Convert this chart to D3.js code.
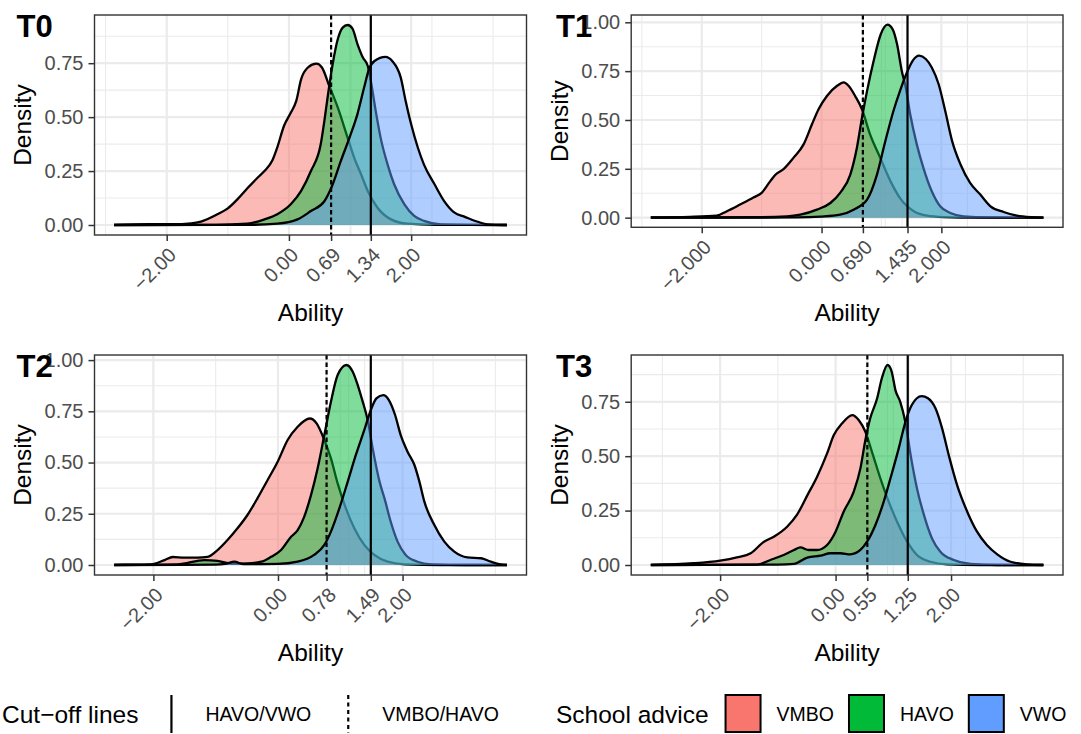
<!DOCTYPE html>
<html>
<head>
<meta charset="utf-8">
<script src="https://cdn.jsdelivr.net/npm/d3@7"></script>
<style>
  body { margin: 0; background: #fff; }
  text { font-family: "Liberation Sans", Arial, Helvetica, sans-serif; }
</style>
</head>
<body>
<script>
// density curves, [ability, density]
var T0_VMBO = [[-2.86,0.001],[-2.3,0.004],[-1.9,0.004],[-1.6,0.008],[-1.44,0.016],[-1.17,0.05],[-1.0,0.077],[-0.84,0.12],[-0.68,0.17],[-0.51,0.22],[-0.40,0.25],[-0.27,0.30],[-0.19,0.36],[-0.08,0.46],[0.03,0.52],[0.12,0.575],[0.20,0.676],[0.31,0.73],[0.45,0.748],[0.54,0.73],[0.66,0.645],[0.80,0.544],[0.96,0.405],[1.07,0.31],[1.18,0.235],[1.29,0.158],[1.45,0.08],[1.67,0.026],[1.94,0.006],[2.4,0.001],[3.566,0]];
var T0_HAVO = [[-2.86,0],[-1.2,0.001],[-0.68,0.006],[-0.40,0.026],[-0.19,0.05],[0.03,0.096],[0.20,0.158],[0.36,0.25],[0.52,0.374],[0.58,0.483],[0.64,0.606],[0.715,0.745],[0.80,0.862],[0.88,0.915],[0.96,0.927],[1.04,0.91],[1.12,0.84],[1.21,0.776],[1.29,0.737],[1.34,0.668],[1.42,0.529],[1.50,0.405],[1.615,0.28],[1.72,0.19],[1.89,0.096],[2.05,0.042],[2.21,0.019],[2.49,0.003],[3.566,0]];
var T0_VWO = [[-2.86,0],[-0.6,0.001],[-0.19,0.006],[0.14,0.026],[0.36,0.065],[0.58,0.11],[0.69,0.17],[0.85,0.297],[1.01,0.42],[1.12,0.513],[1.23,0.637],[1.31,0.722],[1.40,0.76],[1.58,0.779],[1.69,0.76],[1.83,0.683],[1.91,0.575],[2.0,0.467],[2.11,0.358],[2.21,0.28],[2.38,0.19],[2.54,0.111],[2.71,0.057],[2.87,0.039],[3.09,0.015],[3.25,0.003],[3.566,0]];

var T1_VMBO = [[-2.85,0.001],[-2.2,0.004],[-1.75,0.01],[-1.58,0.033],[-1.36,0.067],[-1.13,0.104],[-1.0,0.127],[-0.855,0.187],[-0.77,0.22],[-0.63,0.25],[-0.47,0.306],[-0.30,0.375],[-0.16,0.478],[-0.05,0.555],[0.09,0.623],[0.26,0.675],[0.37,0.692],[0.45,0.675],[0.56,0.623],[0.675,0.555],[0.81,0.426],[0.98,0.306],[1.15,0.187],[1.31,0.10],[1.54,0.033],[1.76,0.01],[2.04,0.003],[2.6,0],[3.703,0]];
var T1_HAVO = [[-2.85,0],[-1.0,0.002],[-0.58,0.006],[-0.355,0.015],[-0.077,0.041],[0.147,0.075],[0.31,0.127],[0.48,0.22],[0.59,0.358],[0.675,0.512],[0.76,0.649],[0.87,0.803],[0.99,0.94],[1.10,0.988],[1.185,0.965],[1.26,0.889],[1.34,0.75],[1.40,0.675],[1.48,0.529],[1.59,0.375],[1.70,0.255],[1.84,0.135],[1.98,0.058],[2.15,0.024],[2.37,0.007],[2.8,0.001],[3.703,0]];
var T1_VWO = [[-2.85,0],[-0.4,0.001],[-0.02,0.005],[0.31,0.015],[0.535,0.041],[0.76,0.092],[0.925,0.22],[1.065,0.392],[1.20,0.546],[1.31,0.649],[1.425,0.743],[1.52,0.803],[1.63,0.829],[1.74,0.812],[1.84,0.769],[1.955,0.683],[2.065,0.546],[2.18,0.392],[2.32,0.272],[2.48,0.178],[2.65,0.118],[2.82,0.058],[3.04,0.029],[3.26,0.01],[3.5,0.002],[3.703,0]];

var T2_VMBO = [[-2.63,0.001],[-2.2,0.002],[-2.04,0.003],[-1.82,0.024],[-1.69,0.039],[-1.50,0.036],[-1.29,0.036],[-1.13,0.04],[-0.97,0.073],[-0.81,0.122],[-0.65,0.179],[-0.49,0.244],[-0.33,0.325],[-0.166,0.415],[-0.005,0.504],[0.155,0.61],[0.316,0.675],[0.51,0.715],[0.62,0.691],[0.744,0.61],[0.85,0.52],[0.958,0.398],[1.09,0.276],[1.225,0.179],[1.385,0.098],[1.546,0.049],[1.76,0.016],[2.03,0.003],[2.6,0],[3.674,0]];
var T2_HAVO = [[-2.63,0],[-1.61,0.003],[-1.18,0.024],[-0.97,0.02],[-0.75,0.007],[-0.49,0.008],[-0.27,0.016],[-0.11,0.04],[0.05,0.073],[0.21,0.138],[0.316,0.17],[0.42,0.235],[0.53,0.341],[0.637,0.472],[0.744,0.634],[0.85,0.797],[0.958,0.927],[1.10,0.976],[1.20,0.943],[1.28,0.878],[1.36,0.797],[1.44,0.707],[1.52,0.569],[1.63,0.407],[1.71,0.325],[1.81,0.211],[1.92,0.114],[2.05,0.049],[2.24,0.016],[2.46,0.003],[3.0,0],[3.674,0]];
var T2_VWO = [[-2.63,0],[-1.0,0.002],[-0.85,0.005],[-0.70,0.016],[-0.55,0.004],[0.0,0.005],[0.316,0.016],[0.58,0.049],[0.744,0.098],[0.85,0.163],[0.985,0.276],[1.12,0.407],[1.25,0.537],[1.386,0.659],[1.49,0.756],[1.58,0.813],[1.69,0.829],[1.78,0.805],[1.88,0.732],[1.97,0.634],[2.08,0.553],[2.19,0.488],[2.27,0.407],[2.35,0.309],[2.51,0.195],[2.67,0.114],[2.83,0.065],[3.04,0.037],[3.26,0.033],[3.42,0.016],[3.6,0.002],[3.674,0]];

var T3_VMBO = [[-3.2,0.001],[-2.46,0.008],[-2.0,0.02],[-1.71,0.035],[-1.47,0.054],[-1.24,0.107],[-1.07,0.13],[-0.84,0.176],[-0.67,0.23],[-0.49,0.32],[-0.32,0.406],[-0.147,0.513],[-0.03,0.597],[0.11,0.65],[0.29,0.689],[0.40,0.666],[0.516,0.612],[0.63,0.52],[0.776,0.398],[0.92,0.291],[1.065,0.199],[1.24,0.107],[1.41,0.046],[1.64,0.015],[1.93,0.003],[2.5,0],[3.599,0]];
var T3_HAVO = [[-3.2,0],[-1.36,0.002],[-1.13,0.023],[-0.90,0.046],[-0.72,0.069],[-0.61,0.081],[-0.465,0.069],[-0.32,0.069],[-0.147,0.092],[0.0,0.153],[0.14,0.245],[0.315,0.337],[0.43,0.444],[0.516,0.574],[0.60,0.674],[0.72,0.766],[0.80,0.857],[0.90,0.919],[0.97,0.89],[1.04,0.80],[1.12,0.75],[1.21,0.655],[1.30,0.505],[1.41,0.352],[1.53,0.23],[1.67,0.122],[1.815,0.061],[2.05,0.023],[2.34,0.005],[2.8,0],[3.599,0]];
var T3_VWO = [[-3.2,0],[-1.0,0.002],[-0.72,0.005],[-0.49,0.034],[-0.26,0.043],[-0.09,0.054],[0.084,0.054],[0.257,0.049],[0.43,0.069],[0.545,0.107],[0.69,0.184],[0.834,0.291],[0.95,0.398],[1.094,0.536],[1.21,0.658],[1.32,0.735],[1.49,0.776],[1.60,0.766],[1.73,0.72],[1.845,0.628],[1.96,0.505],[2.105,0.367],[2.28,0.245],[2.45,0.153],[2.62,0.092],[2.80,0.049],[3.03,0.015],[3.32,0.003],[3.599,0]];

// cut-off values [VMBO/HAVO, HAVO/VWO]
var T0_CUTS = [0.69, 1.34];
var T1_CUTS = [0.690, 1.435];
var T2_CUTS = [0.78, 1.49];
var T3_CUTS = [0.55, 1.25];

var BASE_BREAKS = [-2, 0, 2];
var Y_BREAKS = [0, 0.25, 0.5, 0.75, 1.0];
var ADVICE = ["VMBO", "HAVO", "VWO"];
var ADVICE_COLORS = ["#F8766D", "#00BA38", "#619CFF"];
var CUT_LABELS = ["HAVO/VWO", "VMBO/HAVO"];

// layout of each panel (pixel box of the plotting area)
var panels = [
  {label: "T0", groups: [T0_VMBO, T0_HAVO, T0_VWO], cuts: T0_CUTS, digits: 2,
   left: 94.5, right: 526.5, top: 15, bottom: 235, col: 0, row: 0},
  {label: "T1", groups: [T1_VMBO, T1_HAVO, T1_VWO], cuts: T1_CUTS, digits: 3,
   left: 631.2, right: 1063, top: 15, bottom: 227.3, col: 1, row: 0},
  {label: "T2", groups: [T2_VMBO, T2_HAVO, T2_VWO], cuts: T2_CUTS, digits: 2,
   left: 94.5, right: 526.5, top: 355, bottom: 575, col: 0, row: 1},
  {label: "T3", groups: [T3_VMBO, T3_HAVO, T3_VWO], cuts: T3_CUTS, digits: 2,
   left: 631.2, right: 1063, top: 355, bottom: 575, col: 1, row: 1}
];

var GRID = "#EBEBEB";
var DARK = "#333333";
var TICK_TXT = "#4D4D4D";

var svg = d3.select("body").append("svg")
  .attr("width", 1081).attr("height", 734);

// ggplot-like minor breaks (breaks kept in the given order)
function minor_breaks(b, lim)
{
  var bd = b[1] - b[0];
  var bb = b.slice();
  if (lim[0] < d3.min(b)) bb.unshift(bb[0] - bd);
  if (lim[1] > d3.max(b)) bb.push(bb[bb.length - 1] + bd);
  var out = [];
  for (var i = 0; i < bb.length - 1; i++)
    out.push(bb[i], (bb[i] + bb[i + 1]) / 2);
  out.push(bb[bb.length - 1]);
  return out.filter(function(v){ return v >= lim[0] && v <= lim[1]; });
}

function expand(ext)
{
  var d = ext[1] - ext[0];
  return [ext[0] - 0.05 * d, ext[1] + 0.05 * d];
}

function draw_panel(p)
{
  var all = d3.merge(p.groups);
  var xdom = expand(d3.extent(all, function(d){ return d[0]; }));
  var ydom = expand([0, d3.max(all, function(d){ return d[1]; })]);
  var x = d3.scaleLinear().domain(xdom).range([p.left, p.right]);
  var y = d3.scaleLinear().domain(ydom).range([p.bottom, p.top]);

  var xbreaks = BASE_BREAKS.concat(p.cuts);
  var ybreaks = Y_BREAKS.filter(function(v){ return v >= ydom[0] && v <= ydom[1]; });

  var g = svg.append("g");
  g.append("rect")
    .attr("x", p.left).attr("y", p.top)
    .attr("width", p.right - p.left).attr("height", p.bottom - p.top)
    .attr("fill", "#fff");

  // grid
  var grid = g.append("g");
  grid.selectAll(".xmin").data(minor_breaks(xbreaks, xdom)).enter().append("line")
    .attr("x1", x).attr("x2", x).attr("y1", p.top).attr("y2", p.bottom)
    .attr("stroke", GRID).attr("stroke-width", 1.1);
  grid.selectAll(".ymin").data(minor_breaks(ybreaks, ydom)).enter().append("line")
    .attr("y1", y).attr("y2", y).attr("x1", p.left).attr("x2", p.right)
    .attr("stroke", GRID).attr("stroke-width", 1.1);
  grid.selectAll(".xmaj").data(xbreaks).enter().append("line")
    .attr("x1", x).attr("x2", x).attr("y1", p.top).attr("y2", p.bottom)
    .attr("stroke", GRID).attr("stroke-width", 2.2);
  grid.selectAll(".ymaj").data(ybreaks).enter().append("line")
    .attr("y1", y).attr("y2", y).attr("x1", p.left).attr("x2", p.right)
    .attr("stroke", GRID).attr("stroke-width", 2.2);

  // densities, each group fill then upper outline
  var area = d3.area()
    .x(function(d){ return x(d[0]); })
    .y0(y(0))
    .y1(function(d){ return y(d[1]); })
    .curve(d3.curveMonotoneX);
  var line = d3.line()
    .x(function(d){ return x(d[0]); })
    .y(function(d){ return y(d[1]); })
    .curve(d3.curveMonotoneX);
  p.groups.forEach(function(gr, i){
    g.append("path").attr("d", area(gr))
      .attr("fill", ADVICE_COLORS[i]).attr("fill-opacity", 0.5);
    g.append("path").attr("d", line(gr))
      .attr("fill", "none").attr("stroke", "#000").attr("stroke-width", 2.3)
      .attr("stroke-linejoin", "round");
  });

  // cut-off lines
  g.selectAll(".cut").data(p.cuts).enter().append("line")
    .attr("x1", x).attr("x2", x).attr("y1", p.top).attr("y2", p.bottom)
    .attr("stroke", "#000").attr("stroke-width", 2.2)
    .attr("stroke-dasharray", function(d, i){ return i == 0 ? "4.5,3" : null; });

  g.append("rect")
    .attr("x", p.left).attr("y", p.top)
    .attr("width", p.right - p.left).attr("height", p.bottom - p.top)
    .attr("fill", "none").attr("stroke", DARK).attr("stroke-width", 1.4);

  // axes
  var fmt = d3.format("." + p.digits + "f");
  var xa = g.append("g").attr("transform", "translate(0," + p.bottom + ")")
    .call(d3.axisBottom(x).tickValues(xbreaks).tickFormat(fmt).tickSize(6));
  var ya = g.append("g").attr("transform", "translate(" + p.left + ",0)")
    .call(d3.axisLeft(y).tickValues(ybreaks).tickFormat(d3.format(".2f")).tickSize(6).tickPadding(5));
  [xa, ya].forEach(function(a){
    a.select(".domain").remove();
    a.selectAll(".tick line").attr("stroke", DARK).attr("stroke-width", 1.5);
    a.selectAll(".tick text").attr("fill", TICK_TXT).style("font-size", "20px")
      .style("font-family", '"Liberation Sans", Arial, sans-serif');
  });
  xa.selectAll(".tick text")
    .attr("x", 0).attr("y", 0).attr("dy", "0.72em")
    .attr("text-anchor", "end")
    .attr("transform", "translate(0,11) rotate(-45)");

  // titles
  var rowTop = p.row * 340;
  svg.append("text")
    .attr("x", (p.left + p.right) / 2).attr("y", rowTop + 321)
    .attr("text-anchor", "middle").style("font-size", "24.5px")
    .text("Ability");
  var dx = p.col == 0 ? 31 : 567.5;
  svg.append("text")
    .attr("transform", "translate(" + dx + "," + ((p.top + p.bottom) / 2) + ") rotate(-90)")
    .attr("text-anchor", "middle").style("font-size", "24.5px")
    .text("Density");
  svg.append("text")
    .attr("x", p.col == 0 ? 16.5 : 556).attr("y", rowTop + 37)
    .style("font-size", "31px").style("font-weight", "bold")
    .text(p.label);
}

panels.forEach(draw_panel);

// legend
var LEG_Y = 714;
var KEY_T = 695, KEY_B = 732;
var leg = svg.append("g");

function leg_text(x, txt, size)
{
  var t = leg.append("text").attr("x", x).attr("y", LEG_Y).attr("dy", "0.36em")
    .style("font-size", size + "px").text(txt);
  return t.node().getComputedTextLength();
}

var lx = 2;
lx += leg_text(lx, "Cut\u2212off lines", 24.5) + 16;
CUT_LABELS.forEach(function(lab, i){
  leg.append("line")
    .attr("x1", lx + 17).attr("x2", lx + 17).attr("y1", KEY_T).attr("y2", KEY_B + 1)
    .attr("stroke", "#000").attr("stroke-width", 2.2)
    .attr("stroke-dasharray", i == 1 ? "4,3.5" : null);
  lx += 34 + 17;
  lx += leg_text(lx, lab, 19.5) + 20;
});

lx = 556;
lx += leg_text(lx, "School advice", 24.5) + 17;
ADVICE.forEach(function(lab, i){
  leg.append("rect")
    .attr("x", lx).attr("y", KEY_T).attr("width", 35).attr("height", KEY_B - KEY_T)
    .attr("fill", ADVICE_COLORS[i]).attr("stroke", "#000").attr("stroke-width", 2);
  lx += 35 + 16;
  lx += leg_text(lx, lab, 19.5) + 15;
});
</script>
</body>
</html>
